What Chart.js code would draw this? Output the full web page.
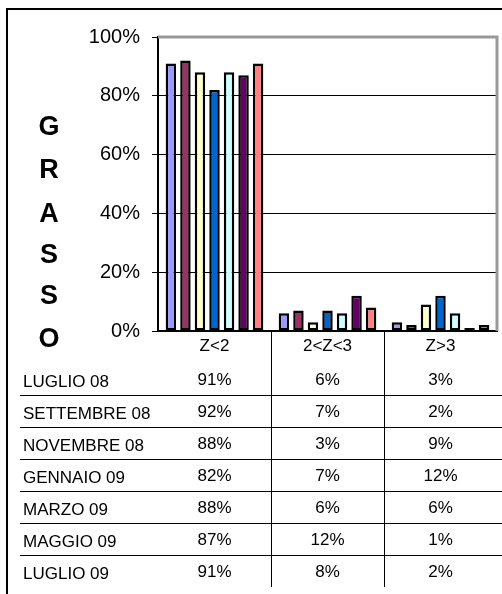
<!DOCTYPE html>
<html>
<head>
<meta charset="utf-8">
<script src="https://cdn.jsdelivr.net/npm/chart.js@4"></script>
<style>
  html, body { margin: 0; padding: 0; background: #fff; }
  #grafico { display: block; }
</style>
</head>
<body>
<canvas id="grafico" width="502" height="594"></canvas>
<script>
// categorie (classi di z-score)
var categorie = ['Z<2', '2<Z<3', 'Z>3'];
// periodi di rilevazione (una serie per ciascuno)
var periodi = ['LUGLIO 08', 'SETTEMBRE 08', 'NOVEMBRE 08', 'GENNAIO 09', 'MARZO 09', 'MAGGIO 09', 'LUGLIO 09'];
// percentuali per categoria, nell'ordine dei periodi
var valoriZ2 = [91, 92, 88, 82, 88, 87, 91];
var valoriZ23 = [6, 7, 3, 7, 6, 12, 8];
var valoriZ3 = [3, 2, 9, 12, 6, 1, 2];
// tacche asse y
var tickY = [0, 20, 40, 60, 80, 100];
var titoloY = ['G', 'R', 'A', 'S', 'S', 'O'];

var colori = ['#9999FF', '#993366', '#FFFFCC', '#0066CC', '#CCFFFF', '#660066', '#FF8080'];

var datasets = periodi.map(function (p, i) {
    return {
        label: p,
        data: [valoriZ2[i], valoriZ23[i], valoriZ3[i]],
        backgroundColor: colori[i],
        borderColor: '#000',
        borderWidth: 2.5,
        borderSkipped: false,
        categoryPercentage: 0.9,
        barPercentage: 0.72
    };
});

// cornice, titolo verticale e tabella dati
var tabellaPlugin = {
    id: 'tabella',
    beforeDraw: function (chart) {
        var ctx = chart.ctx;
        ctx.save();
        ctx.fillStyle = '#fff';
        ctx.fillRect(0, 0, chart.width, chart.height);
        ctx.restore();
    },
    afterDraw: function (chart) {
        var ctx = chart.ctx;
        var area = chart.chartArea;
        var x = chart.scales.x;
        ctx.save();

        // cornice esterna
        ctx.strokeStyle = '#000';
        ctx.lineWidth = 2;
        ctx.strokeRect(7, 9, 700, 700);

        // bordo grigio dell'area del grafico
        ctx.strokeStyle = '#999';
        ctx.lineWidth = 3;
        ctx.beginPath();
        ctx.moveTo(area.left, area.top);
        ctx.lineTo(area.right, area.top);
        ctx.lineTo(area.right, area.bottom);
        ctx.stroke();

        // titolo verticale
        var posTitolo = [128, 171, 215, 256, 297, 340];
        ctx.fillStyle = '#000';
        ctx.font = 'bold 27px Arial, "Liberation Sans", sans-serif';
        ctx.textAlign = 'center';
        ctx.textBaseline = 'middle';
        titoloY.forEach(function (l, i) {
            ctx.fillText(l, 49, posTitolo[i]);
        });

        // tabella
        var rigaTop = 363, rigaH = 32;
        ctx.strokeStyle = '#000';
        ctx.lineWidth = 1;
        for (var i = 1; i < periodi.length; i++) {
            var y = Math.round(rigaTop + i * rigaH) + 0.5;
            ctx.beginPath();
            ctx.moveTo(20, y);
            ctx.lineTo(chart.width, y);
            ctx.stroke();
        }
        for (var c = 0; c < categorie.length - 1; c++) {
            var xs = Math.round((x.getPixelForValue(c) + x.getPixelForValue(c + 1)) / 2) + 0.5;
            ctx.beginPath();
            ctx.moveTo(xs, area.bottom);
            ctx.lineTo(xs, 587);
            ctx.stroke();
        }

        ctx.font = '17px Arial, "Liberation Sans", sans-serif';
        var colonne = [valoriZ2, valoriZ23, valoriZ3];
        periodi.forEach(function (p, i) {
            var yc = rigaTop + i * rigaH + 18;
            ctx.textAlign = 'left';
            ctx.fillText(p, 23, yc + 1);
            ctx.textAlign = 'center';
            colonne.forEach(function (col, c) {
                ctx.fillText(col[i] + '%', x.getPixelForValue(c), yc - 1);
            });
        });
        ctx.restore();
    }
};

new Chart(document.getElementById('grafico'), {
    type: 'bar',
    data: { labels: categorie, datasets: datasets },
    plugins: [tabellaPlugin],
    options: {
        responsive: false,
        animation: false,
        devicePixelRatio: 1,
        layout: { padding: { top: 37, right: 5, left: 0, bottom: 0 } },
        plugins: {
            legend: { display: false },
            tooltip: { enabled: false }
        },
        scales: {
            x: {
                grid: { display: false, drawTicks: false },
                border: { display: true, color: '#000', width: 2 },
                ticks: {
                    color: '#000',
                    padding: 5,
                    font: { family: 'Arial, "Liberation Sans", sans-serif', size: 17 }
                },
                afterFit: function (scale) { scale.height = 263; }
            },
            y: {
                min: 0,
                max: 100,
                afterBuildTicks: function (scale) {
                    scale.ticks = tickY.map(function (v) { return { value: v }; });
                },
                grid: {
                    color: function (c) { return c.tick && c.tick.value === 100 ? 'rgba(0,0,0,0)' : '#000'; },
                    lineWidth: 1,
                    tickLength: 6,
                    tickColor: '#000'
                },
                border: { display: true, color: '#000', width: 2 },
                ticks: {
                    color: '#000',
                    padding: 12,
                    font: { family: 'Arial, "Liberation Sans", sans-serif', size: 20 },
                    callback: function (v) { return v + '%'; }
                },
                afterFit: function (scale) { scale.width = 158; }
            }
        }
    }
});
</script>
</body>
</html>
